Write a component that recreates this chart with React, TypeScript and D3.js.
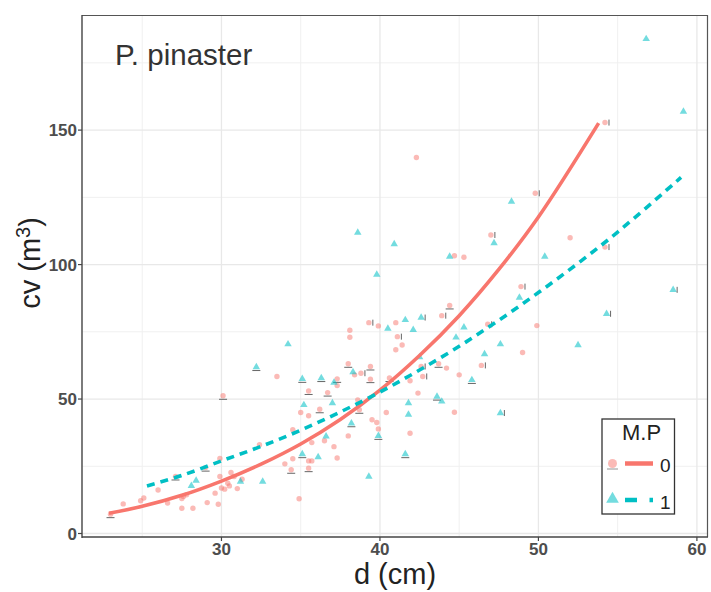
import React from 'react';
import * as d3 from 'd3';

// ---- data ----
const groupLabels = ['0', '1'];

// M.P = 0 (circles)
const mp0D = [23.0, 23.8, 24.9, 25.1, 26.0, 26.6, 27.1, 27.5, 27.6, 27.8, 27.5, 28.2, 29.0, 29.1, 29.6, 29.8, 29.9, 29.9, 30.0, 30.2, 30.4, 30.5, 30.6, 30.8, 31.0, 31.3, 32.4, 30.1, 33.5, 37.3, 37.3, 35.5, 36.7, 38.0, 38.1, 38.1, 38.4, 38.8, 39.4, 39.4, 35.0, 35.5, 36.2, 34.5, 35.7, 36.5, 37.1, 38.0, 39.5, 39.8, 38.6, 38.7, 34.5, 34.0, 35.5, 35.7, 34.4, 35.5, 37.3, 34.9, 39.3, 39.9, 41.0, 41.1, 41.0, 41.4, 43.9, 40.6, 42.6, 42.7, 41.9, 43.7, 44.2, 42.4, 41.9, 40.4, 39.9, 48.9, 44.4, 46.8, 49.0, 45.0, 46.4, 44.7, 47.0, 44.7, 45.3, 52.0, 49.9, 54.2, 42.3, 49.8, 54.2];
const mp0Cv = [7.2, 11.0, 12.2, 13.2, 16.2, 11.3, 21.2, 13.0, 13.8, 14.4, 9.4, 9.4, 24.5, 11.5, 15.0, 10.9, 21.2, 27.9, 16.9, 16.5, 18.7, 17.7, 22.7, 21.2, 16.7, 20.2, 33.0, 51.2, 58.4, 57.5, 55.0, 53.0, 52.4, 63.1, 73.0, 75.6, 59.0, 59.6, 62.1, 57.4, 45.0, 43.8, 46.2, 38.6, 33.8, 34.5, 32.3, 36.3, 42.3, 41.3, 49.7, 46.0, 27.8, 25.9, 27.0, 27.0, 23.7, 24.3, 28.1, 12.9, 78.4, 77.2, 78.4, 73.2, 68.3, 70.1, 81.0, 57.8, 62.1, 58.4, 56.8, 63.1, 61.5, 52.2, 37.3, 45.0, 38.9, 91.8, 84.8, 77.8, 67.3, 59.0, 62.5, 45.1, 111.0, 103.3, 102.7, 110.0, 77.3, 152.8, 139.8, 126.5, 106.5];
// error-bar cap visible: '' none, 'h' cap under the point, 'v' cap right of the point
const mp0Err = ['h', '', '', '', '', '', 'h', '', '', '', '', '', 'h', '', '', '', '', '', '', '', '', '', '', '', '', '', '', 'h', '', 'h', '', 'h', 'h', 'h', '', '', '', 'v', 'h', 'h', '', '', 'h', '', '', '', '', '', '', '', '', 'h', '', '', '', '', 'h', 'h', '', '', 'v', '', '', 'v', '', '', 'v', 'h', 'v', 'v', '', 'h', '', '', '', '', '', 'v', 'h', 'v', '', '', 'v', '', 'v', '', '', '', '', 'v', '', 'v', 'v'];

// M.P = 1 (triangles)
const mp1D = [28.1, 28.4, 31.2, 34.2, 32.2, 35.1, 36.3, 37.1, 38.3, 35.2, 37.0, 36.6, 39.9, 38.2, 35.1, 36.1, 39.3, 32.6, 39.8, 40.5, 41.6, 42.6, 42.1, 42.5, 43.6, 43.9, 41.8, 41.8, 48.8, 45.3, 44.8, 47.6, 46.6, 45.8, 47.6, 41.6, 48.3, 47.2, 44.4, 50.4, 59.15, 58.5, 54.3, 56.8, 52.5, 38.6, 40.9];
const mp1Cv = [17.7, 19.7, 19.3, 70.4, 61.9, 57.5, 57.8, 56.1, 60.0, 47.8, 48.5, 36.1, 36.3, 41.0, 29.5, 28.4, 21.2, 19.3, 96.3, 76.2, 79.4, 80.3, 75.7, 65.6, 50.9, 49.1, 48.5, 44.2, 87.7, 76.7, 72.9, 70.4, 66.7, 57.1, 44.8, 29.5, 123.4, 108.0, 103.0, 103.0, 156.9, 90.6, 81.7, 183.9, 70.1, 111.9, 107.6];
const mp1Err = ['', '', '', '', 'h', 'h', 'h', '', '', '', '', '', 'h', 'h', 'h', '', '', '', '', '', '', 'v', '', '', 'h', '', '', '', '', '', '', '', '', 'h', 'v', 'h', '', '', '', '', '', 'v', 'v', '', '', '', ''];

// fitted curves
const fit0D = [22.9, 25, 27.5, 30, 32.5, 35, 37.5, 40, 42.5, 45, 47.5, 50, 53.8];
const fit0Cv = [7.5, 10.1, 14.2, 19.5, 25.8, 33.3, 42.4, 53.3, 66.2, 81.0, 98.2, 117.7, 152.6];
const fit1D = [25.3, 27.5, 30, 32.5, 35, 37.5, 40, 42.5, 45, 47.5, 50, 52.5, 55, 59.0];
const fit1Cv = [17.7, 21.6, 27.0, 32.4, 38.4, 45.2, 52.6, 60.8, 69.6, 79.3, 89.6, 100.5, 112.1, 132.4];

const xTicks = [30, 40, 50, 60];
const xMinorTicks = [25, 35, 45, 55];
const yTicks = [0, 50, 100, 150];
const yMinorTicks = [25, 75, 125, 175];

const titleText = 'P. pinaster';
const xTitle = 'd (cm)';
const legendTitle = 'M.P';

const RED = '#F8766D';
const TEAL = '#00BFC4';
const FONT = '"Liberation Sans", Arial, Helvetica, sans-serif';

export default function App() {
  const W = 711, H = 592;
  const left = 82, right = 708, top = 15, bottom = 537;
  const x = d3.scaleLinear().domain([21.2, 60.7]).range([left, right]);
  const y = d3.scaleLinear().domain([-1.3, 192.8]).range([bottom, top]);

  const line = d3.line<[number, number]>()
    .x((p) => x(p[0]))
    .y((p) => y(p[1]))
    .curve(d3.curveCatmullRom);

  const fit0 = fit0D.map((d, i) => [d, fit0Cv[i]] as [number, number]);
  const fit1 = fit1D.map((d, i) => [d, fit1Cv[i]] as [number, number]);

  const tri = d3.symbol().type(d3.symbolTriangle).size(24)()!;
  const triLegend = d3.symbol().type(d3.symbolTriangle).size(70)()!;

  const errMark = (cx: number, cy: number, t: string, k: string) => {
    if (t === 'h') return <line key={k} x1={cx - 4} x2={cx + 4} y1={cy + 3.5} y2={cy + 3.5} stroke="#555" strokeWidth={0.9} />;
    if (t === 'v') return <line key={k} x1={cx + 4} x2={cx + 4} y1={cy - 3} y2={cy + 3} stroke="#555" strokeWidth={0.9} />;
    return null;
  };

  return (
    <svg width={W} height={H} style={{ position: 'absolute', left: 0, top: 0, background: '#fff' }} fontFamily={FONT}>
      <rect x={0} y={0} width={W} height={H} fill="#fff" />
      {/* minor grid */}
      {xMinorTicks.map((t) => (
        <line key={'xm' + t} x1={x(t)} x2={x(t)} y1={top} y2={bottom} stroke="#F0F0F0" strokeWidth={1} />
      ))}
      {yMinorTicks.map((t) => (
        <line key={'ym' + t} x1={left} x2={right} y1={y(t)} y2={y(t)} stroke="#F0F0F0" strokeWidth={1} />
      ))}
      {/* major grid */}
      {xTicks.map((t) => (
        <line key={'xg' + t} x1={x(t)} x2={x(t)} y1={top} y2={bottom} stroke="#E8E8E8" strokeWidth={1.3} />
      ))}
      {yTicks.map((t) => (
        <line key={'yg' + t} x1={left} x2={right} y1={y(t)} y2={y(t)} stroke="#E8E8E8" strokeWidth={1.3} />
      ))}

      {/* points */}
      {mp0D.map((d, i) => (
        <g key={'p0' + i}>
          <circle cx={x(d)} cy={y(mp0Cv[i])} r={2.7} fill={RED} fillOpacity={0.5} />
          {errMark(x(d), y(mp0Cv[i]), mp0Err[i], 'e0' + i)}
        </g>
      ))}
      {mp1D.map((d, i) => (
        <g key={'p1' + i}>
          <path d={tri} transform={`translate(${x(d)},${y(mp1Cv[i])})`} fill={TEAL} fillOpacity={0.55} />
          {errMark(x(d), y(mp1Cv[i]), mp1Err[i], 'e1' + i)}
        </g>
      ))}

      {/* fitted lines */}
      <path d={line(fit0)!} fill="none" stroke={RED} strokeWidth={3.6} />
      <path d={line(fit1)!} fill="none" stroke={TEAL} strokeWidth={3.6} strokeDasharray="8 6" />

      {/* panel border */}
      <line x1={left} x2={right} y1={top + 0.5} y2={top + 0.5} stroke="#555" strokeWidth={1.2} />
      <line x1={right - 0.5} x2={right - 0.5} y1={top} y2={bottom} stroke="#555" strokeWidth={1.2} />
      {/* axes */}
      <line x1={left} x2={left} y1={top} y2={bottom + 1} stroke="#444" strokeWidth={1.4} />
      <line x1={left} x2={right} y1={bottom} y2={bottom} stroke="#444" strokeWidth={1.4} />
      {yTicks.map((t) => (
        <g key={'yt' + t}>
          <line x1={left - 4} x2={left} y1={y(t)} y2={y(t)} stroke="#444" strokeWidth={1.2} />
          <text x={left - 5} y={y(t)} dy="0.36em" textAnchor="end" fontSize={17} fontWeight="bold" fill="#4D4D4D">{t}</text>
        </g>
      ))}
      {xTicks.map((t) => (
        <g key={'xt' + t}>
          <line x1={x(t)} x2={x(t)} y1={bottom} y2={bottom + 4} stroke="#444" strokeWidth={1.2} />
          <text x={x(t)} y={bottom + 18} textAnchor="middle" fontSize={17} fontWeight="bold" fill="#4D4D4D">{t}</text>
        </g>
      ))}

      {/* axis titles */}
      <text x={(left + right) / 2} y={584} textAnchor="middle" fontSize={29} fill="#222">{xTitle}</text>
      <text transform={`translate(40, 263) rotate(-90)`} textAnchor="middle" fontSize={29} fill="#222">
        cv (m<tspan fontSize={20} dy={-10}>3</tspan><tspan dy={10}>)</tspan>
      </text>

      {/* panel title */}
      <text x={115} y={65} fontSize={29.5} fill="#333">{titleText}</text>

      {/* legend */}
      <g>
        <rect x={602} y={419} width={72.5} height={95} fill="#fff" stroke="#333" strokeWidth={1.3} />
        <text x={641.5} y={440} textAnchor="middle" fontSize={22} fill="#222">{legendTitle}</text>
        <circle cx={612.5} cy={463.5} r={4.5} fill={RED} fillOpacity={0.5} />
        <line x1={607} x2={618} y1={469} y2={469} stroke="#888" strokeWidth={0.9} />
        <line x1={625} x2={653} y1={463.5} y2={463.5} stroke={RED} strokeWidth={4.5} />
        <text x={660} y={472} fontSize={19} fill="#222">{groupLabels[0]}</text>
        <path d={triLegend} transform="translate(612.5,499)" fill={TEAL} fillOpacity={0.55} />
        <line x1={625} x2={653} y1={500} y2={500} stroke={TEAL} strokeWidth={4.5} strokeDasharray="12 12.5" />
        <text x={660} y={509} fontSize={19} fill="#222">{groupLabels[1]}</text>
      </g>
    </svg>
  );
}
